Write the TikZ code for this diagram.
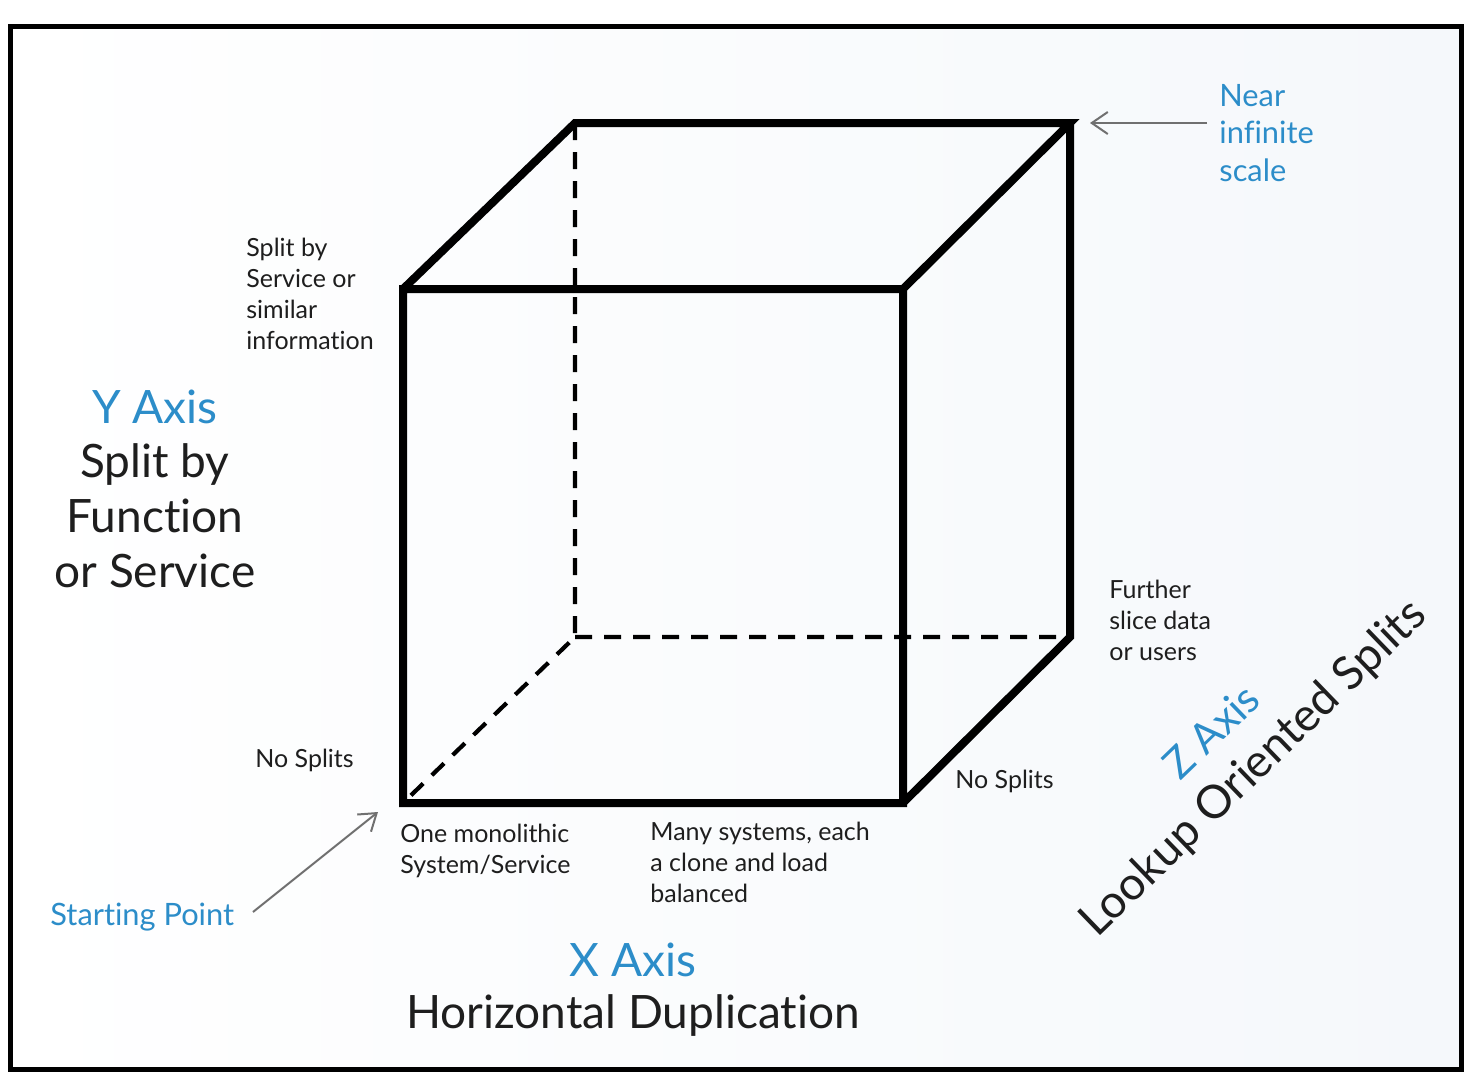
\documentclass[tikz,border=0pt]{standalone}
\usepackage{fontspec}
\setmainfont{Lato}[Ligatures=NoCommon]
\usetikzlibrary{arrows.meta}
\definecolor{axisblue}{RGB}{44,141,201}
\definecolor{notegray}{RGB}{30,30,30}
\definecolor{pointergray}{RGB}{112,112,112}
\definecolor{paperright}{RGB}{245,248,251}
\tikzset{
	edge/.style={line width=4pt},
	hidden/.style={line width=2.1pt,dash pattern=on 8.5pt off 6pt},
	note/.style={align=left,anchor=west,inner sep=0pt,text=notegray,font=\fontsize{12.5}{15.5}\selectfont},
	bluenote/.style={align=left,anchor=west,inner sep=0pt,text=axisblue,font=\fontsize{15.4}{18.7}\selectfont},
	axistitle/.style={align=center,inner sep=0pt,text=axisblue,font=\fontsize{23}{27.5}\selectfont},
	axisdesc/.style={align=center,inner sep=0pt,text=notegray,font=\fontsize{23}{27.5}\selectfont},
	pointer/.style={draw=pointergray,line width=1pt,-{Straight Barb[length=8pt,width=11pt]}}
}
\begin{document}
\begin{tikzpicture}[x=0.5pt,y=-0.5pt]
	\useasboundingbox (0,0) rectangle (1478,1082);
	% paper and frame
	\fill[left color=white,right color=paperright] (10,27) rectangle (1461,1069);
	\draw[line width=2.5pt] (10.5,26.5) rectangle (1461,1069.5);
	% cube corners
	\path (403,803) coordinate (A)
	(903,803) coordinate (B)
	++(167,-166) coordinate (C)
	++(-495,0) coordinate (D)
	\foreach \x in {A,B,C,D}{(\x)++(0,-514) coordinate (\x_1)};
	\draw[hidden] (D_1)--(D)--(A) (D)--(C);
	\draw[edge] (A)--(B)--(B_1)--(A_1)--cycle (A_1)--(D_1)--(C_1)--(B_1) (C_1)--(C)--(B);
	% corner notes
	\node[bluenote] (nis) at (1219,133) {Near\\infinite\\scale};
	\coordinate (nis_tip) at (1090,123);
	\draw[pointer] ([shift={(-12,-10)}]nis.west) -- (nis_tip);
	\node[note] (ysplit) at (246,294) {Split by\\Service or\\similar\\information};
	\node[note] (ynone) at (255,760) {No Splits};
	\node[note] (znone) at (955,781) {No Splits};
	\node[note] (xone) at (400,851) {One monolithic\\System/Service};
	\node[note] (xmany) at (650,862) {Many systems, each\\a clone and load\\balanced};
	\node[note] (zslice) at (1109,620) {Further\\slice data\\or users};
	\node[bluenote] (start) at (50,917) {Starting Point};
	\coordinate (start_tail) at (253,912);
	\coordinate (start_tip) at (378,812);
	\draw[pointer] (start_tail) -- (start_tip);
	% axis titles
	\node[axistitle] (yaxis) at (155,407) {Y Axis};
	\node[axisdesc] (ydesc) at (155,516) {Split by\\Function\\or Service};
	\node[axistitle] (xaxis) at (633,960) {X Axis};
	\node[axisdesc] (xdesc) at (633,1015) {Horizontal Duplication};
	\node[axistitle,rotate=44,font=\fontsize{21}{25}\selectfont] (zaxis) at (1211,731) {Z Axis};
	\node[axisdesc,rotate=44] (zdesc) at (1254,769) {Lookup Oriented Splits};
\end{tikzpicture}
\end{document}
